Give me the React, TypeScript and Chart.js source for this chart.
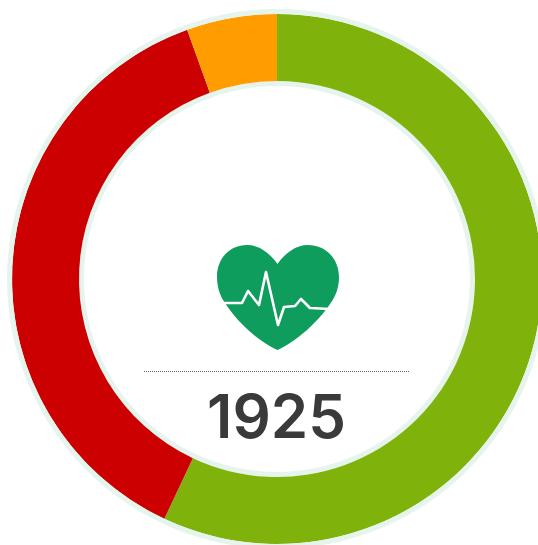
import React, { useEffect, useRef } from "react";
import { Chart, registerables } from "chart.js";

Chart.register(...registerables);

const categories = ["Green", "Red", "Orange"];
const seriesValues = [1097, 722, 106];
const sliceColors = ["#7fb20a", "#cc0000", "#ff9c00"];
const totalLabel = "1925";
const haloValues = [1];
const haloColor = "#e6f4ee";

const centerPlugin = {
  id: "centerArt",
  afterDraw(chart: any) {
    const c = chart.ctx;
    c.save();
    // heart
    c.fillStyle = "#0f9d5e";
    c.beginPath();
    c.moveTo(277.5, 264);
    c.bezierCurveTo(270, 253, 259, 245, 247, 245);
    c.bezierCurveTo(229, 245, 217, 259, 217, 277);
    c.bezierCurveTo(217, 287, 220, 296, 225, 303);
    c.bezierCurveTo(237, 322, 258, 341, 277.5, 350);
    c.bezierCurveTo(297, 341, 318, 322, 330, 304);
    c.bezierCurveTo(336, 296, 339, 287, 339, 277);
    c.bezierCurveTo(339, 259, 326, 245, 308, 245);
    c.bezierCurveTo(296, 245, 285, 253, 277.5, 264);
    c.closePath();
    c.fill();
    // pulse trace
    const trace = [[222, 303], [242, 303], [248, 291], [259, 305], [266, 272], [278, 325], [284, 307], [295, 306], [301, 299], [310, 308], [330, 309]];
    c.strokeStyle = "#ffffff";
    c.lineWidth = 2.6;
    c.lineJoin = "round";
    c.beginPath();
    trace.forEach(([x, y], i) => (i ? c.lineTo(x, y) : c.moveTo(x, y)));
    c.stroke();
    // dotted rule
    c.strokeStyle = "#666666";
    c.lineWidth = 1;
    c.setLineDash([1, 1]);
    c.beginPath();
    c.moveTo(144, 371.5);
    c.lineTo(410, 371.5);
    c.stroke();
    c.setLineDash([]);
    // value
    c.fillStyle = "#3a3a3c";
    c.font = '600 60px Inter, Lato, sans-serif';
    c.textAlign = "center";
    c.textBaseline = "alphabetic";
    c.fillText(totalLabel, 276.5, 438);
    c.restore();
  },
};

export default function App() {
  const ref = useRef<HTMLCanvasElement>(null);
  useEffect(() => {
    document.body.style.margin = "0";
    document.body.style.background = "#ffffff";
    const chart = new Chart(ref.current!, {
      type: "doughnut",
      data: {
        labels: categories,
        datasets: [
          { data: haloValues, backgroundColor: [haloColor], borderWidth: 0, weight: 5 },
          { data: seriesValues, backgroundColor: sliceColors, borderWidth: 0, weight: 67 },
          { data: haloValues, backgroundColor: [haloColor], borderWidth: 0, weight: 5 },
        ],
      },
      options: {
        responsive: false,
        animation: false,
        cutout: 193,
        layout: { padding: 7 },
        plugins: { legend: { display: false }, tooltip: { enabled: false }, title: { display: false } },
        events: [],
      },
      plugins: [centerPlugin],
    });
    return () => chart.destroy();
  }, []);
  return (
    <div style={{ position: "fixed", left: 0, top: 0, width: 538, height: 545, overflow: "hidden", background: "#fff" }}>
      <canvas ref={ref} width={554} height={558} style={{ display: "block" }} />
    </div>
  );
}
